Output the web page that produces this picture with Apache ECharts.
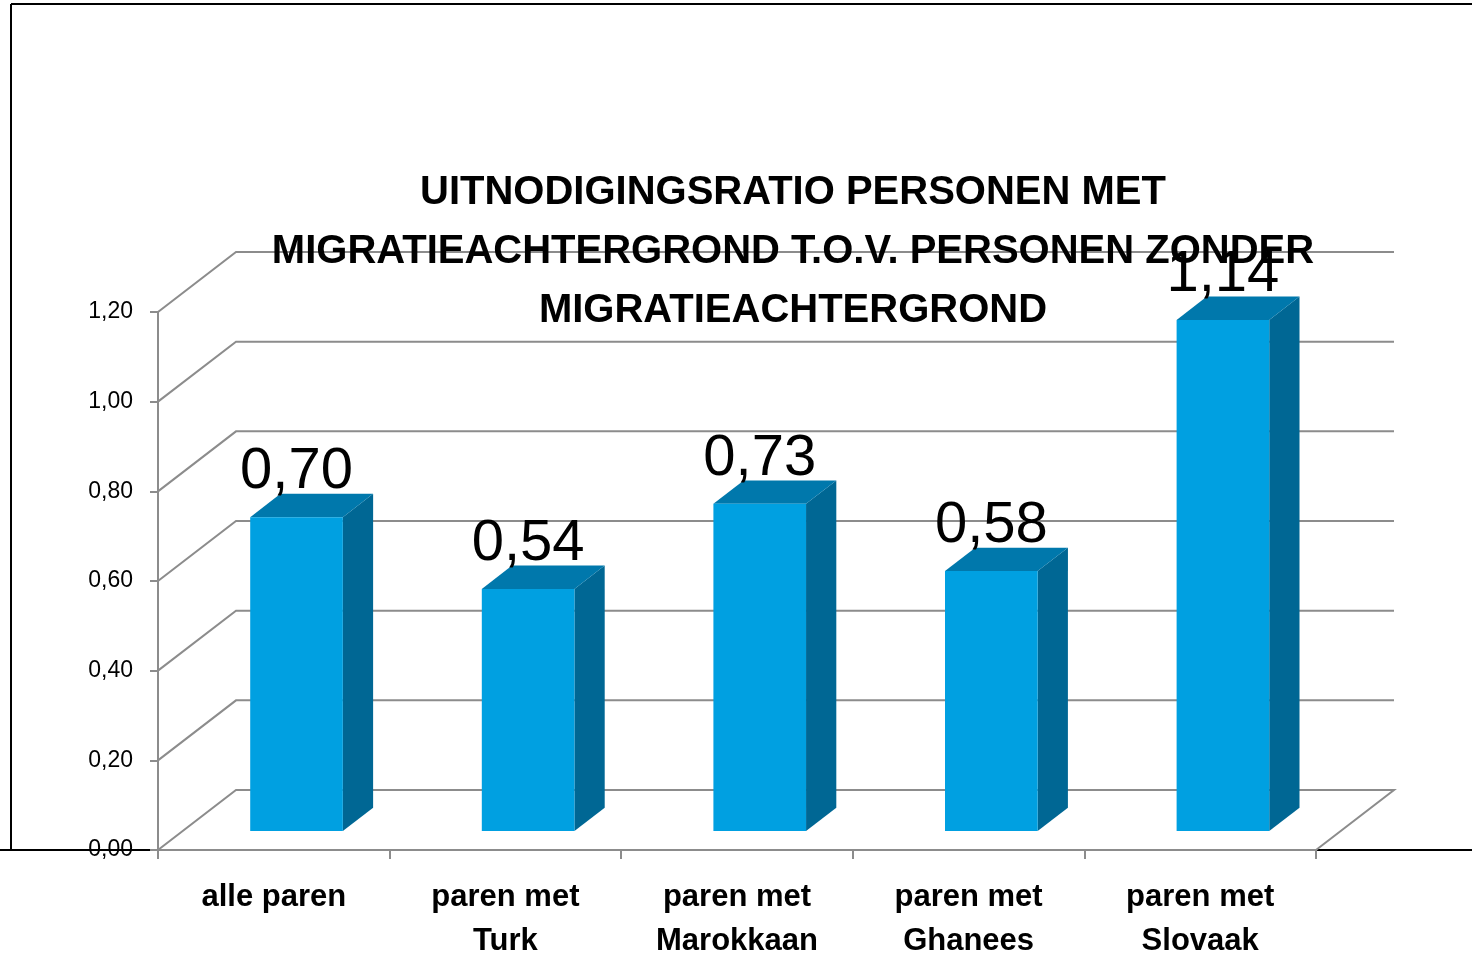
<!DOCTYPE html>
<html>
<head>
<meta charset="utf-8">
<script src="https://cdn.jsdelivr.net/npm/echarts@6/dist/echarts.min.js"></script>
<style>
html,body{margin:0;padding:0;background:#fff;}
#chart{width:1472px;height:957px;}
</style>
</head>
<body>
<div id="chart"></div>
<script>
// ---- data ----
const categories = ['alle paren', 'paren met\nTurk', 'paren met\nMarokkaan', 'paren met\nGhanees', 'paren met\nSlovaak'];
const values = [0.70, 0.54, 0.73, 0.58, 1.14];
const valueLabels = ['0,70', '0,54', '0,73', '0,58', '1,14'];
const yTicks = [0, 0.2, 0.4, 0.6, 0.8, 1.0, 1.2];
const yTickLabels = ['0,00', '0,20', '0,40', '0,60', '0,80', '1,00', '1,20'];
const titleText = 'UITNODIGINGSRATIO PERSONEN MET\nMIGRATIEACHTERGROND T.O.V. PERSONEN ZONDER\nMIGRATIEACHTERGROND';

// ---- 3D look ----
const DX = 78, DY = -60;          // depth offset of back wall
const F1 = 0.317, F2 = 0.705;     // bar front/back depth fractions
const BAR_W = 0.4;                // fraction of category width
const GRID_COLOR = '#8c8c8c';
const FONT = '"Liberation Sans", Arial, sans-serif';

const chart = echarts.init(document.getElementById('chart'), null, {renderer: 'canvas'});

const option = {
  backgroundColor: '#ffffff',
  animation: false,
  grid: {left: 158, top: 312, right: 156, bottom: 107, containLabel: false, outerBoundsMode: 'none'},
  xAxis: {
    type: 'category',
    data: categories,
    boundaryGap: true,
    axisLine: {show: true, lineStyle: {color: GRID_COLOR, width: 2}},
    axisTick: {show: true, length: 9, lineStyle: {color: GRID_COLOR, width: 2}},
    axisLabel: {
      margin: 25, color: '#000', fontFamily: FONT, fontWeight: 'bold',
      fontSize: 31, lineHeight: 44, interval: 0
    },
    splitLine: {show: false}
  },
  yAxis: {
    type: 'value',
    min: 0, max: 1.2, interval: 0.2,
    axisLine: {show: true, lineStyle: {color: GRID_COLOR, width: 2}},
    axisTick: {show: true, length: 8, lineStyle: {color: GRID_COLOR, width: 2}},
    axisLabel: {
      margin: 25, color: '#000', fontFamily: FONT, fontSize: 23,
      formatter: function (v) { return yTickLabels[Math.round(v / 0.2)]; }
    },
    splitLine: {show: false}
  },
  graphic: [
    {type: 'line', z: 0, shape: {x1: 11, y1: 4, x2: 1472, y2: 4}, style: {stroke: '#000', lineWidth: 2}},
    {type: 'line', z: 0, shape: {x1: 11, y1: 4, x2: 11, y2: 850}, style: {stroke: '#000', lineWidth: 2}},
    {type: 'line', z: 0, shape: {x1: 0, y1: 850, x2: 1472, y2: 850}, style: {stroke: '#000', lineWidth: 2}},
    {
      type: 'text', z: 100, x: 793, y: 252,
      style: {
        text: titleText, fill: '#000', font: 'bold 40px ' + FONT,
        align: 'center', verticalAlign: 'middle', textAlign: 'center', textVerticalAlign: 'middle',
        lineHeight: 59
      }
    }
  ],
  series: [
    {
      type: 'custom',
      name: 'grid3d',
      clip: false,
      z: 1,
      silent: true,
      data: yTicks.map(function (v) { return [0, v]; }),
      renderItem: function (params, api) {
        const cs = params.coordSys;
        const v = api.value(1);
        const y = api.coord([0, v])[1];
        const x0 = cs.x;
        const pts = [[x0, y], [x0 + DX, y + DY], [x0 + cs.width + DX, y + DY]];
        if (v === 0) pts.push([x0 + cs.width, y]);
        return {
          type: 'polyline',
          shape: {points: pts},
          style: {stroke: GRID_COLOR, lineWidth: 2, fill: null}
        };
      }
    },
    {
      type: 'custom',
      name: 'ratio',
      clip: false,
      z: 3,
      data: values.map(function (v, i) { return [i, v]; }),
      renderItem: function (params, api) {
        const idx = api.value(0);
        const val = api.value(1);
        const base = api.coord([idx, 0]);
        const top = api.coord([idx, val]);
        const bw = api.size([1, 0])[0] * BAR_W;
        const fx = base[0] + F1 * DX - bw / 2 - 2;
        const fyB = base[1] + F1 * DY;
        const fyT = top[1] + F1 * DY;
        const ddx = (F2 - F1) * DX, ddy = (F2 - F1) * DY;
        return {
          type: 'group',
          children: [
            {type: 'polygon', shape: {points: [[fx + bw, fyB], [fx + bw + ddx, fyB + ddy], [fx + bw + ddx, fyT + ddy], [fx + bw, fyT]]},
             style: {fill: '#006794'}},
            {type: 'polygon', shape: {points: [[fx, fyT], [fx + bw, fyT], [fx + bw + ddx, fyT + ddy], [fx + ddx, fyT + ddy]]},
             style: {fill: '#0078AC'}},
            {type: 'rect', shape: {x: fx, y: fyT, width: bw, height: fyB - fyT},
             style: {fill: '#00A0E1'}},
            {type: 'text', x: fx + bw / 2, y: fyT - 45,
             style: {text: valueLabels[idx], fill: '#000', font: '58px ' + FONT,
                     align: 'center', verticalAlign: 'middle', textAlign: 'center', textVerticalAlign: 'middle'}}
          ]
        };
      }
    }
  ]
};
chart.setOption(option);
</script>
</body>
</html>
